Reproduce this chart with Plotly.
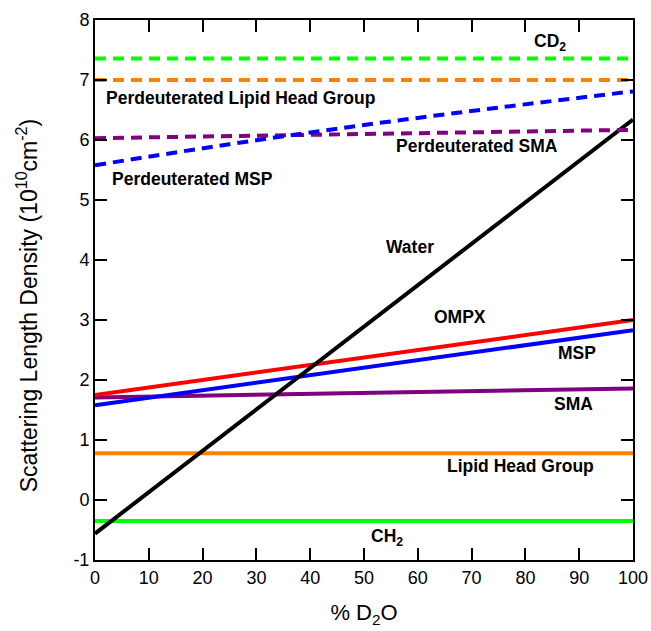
import plotly.graph_objects as go

d2o = [0, 25, 50, 75, 100]

# Solid series (linear -> endpoints)
x_end = [0, 100]
water = [-0.56, 6.34]
ompx = [1.75, 3.0]
msp = [1.58, 2.83]
sma = [1.71, 1.86]
lipid_head = [0.78, 0.78]
ch2 = [-0.35, -0.35]

# Dashed (perdeuterated) series
cd2 = [7.36, 7.36]
perd_lipid_head = [7.0, 7.0]
perd_sma = [6.03, 6.17]
perd_msp = [5.58, 5.93, 6.25, 6.54, 6.81]

y_ticks = [-1, 0, 1, 2, 3, 4, 5, 6, 7, 8]
y_tick_text = ["-1", "0", "1", "2", "3", "4", "5", "6", "7", "8"]

labels = [
    ("CD<sub>2</sub>", 84.6, 7.62),
    ("Perdeuterated Lipid Head Group", 27.0, 6.7),
    ("Perdeuterated SMA", 71.0, 5.9),
    ("Perdeuterated MSP", 18.2, 5.35),
    ("Water", 58.5, 4.22),
    ("OMPX", 67.8, 3.05),
    ("MSP", 89.5, 2.45),
    ("SMA", 89.0, 1.6),
    ("Lipid Head Group", 79.1, 0.57),
    ("CH<sub>2</sub>", 54.3, -0.62),
]

GREEN = "#00FF00"
ORANGE = "#FF8000"
PURPLE = "#800080"
BLUE = "#0000FF"
RED = "#FF0000"
FONT = "Liberation Sans, Arial"

fig = go.Figure()

def add(x, y, color, dash=None, shape="linear"):
    fig.add_trace(go.Scatter(
        x=x, y=y, mode="lines", showlegend=False,
        line=dict(color=color, width=4, dash=dash or "solid", shape=shape),
        hoverinfo="skip"))

DASH = "11px,7px"
add(x_end, ch2, GREEN)
add(x_end, lipid_head, ORANGE)
add(x_end, sma, PURPLE)
add(x_end, msp, BLUE)
add(x_end, ompx, RED)
add(x_end, water, "black")
add(x_end, cd2, GREEN, DASH)
add(x_end, perd_lipid_head, ORANGE, DASH)
add(x_end, perd_sma, PURPLE, DASH)
add(d2o, perd_msp, BLUE, DASH, "spline")

for text, x, y in labels:
    fig.add_annotation(x=x, y=y, text=text, showarrow=False,
                       font=dict(family=FONT, size=17.5, color="black", weight="bold"),
                       xanchor="center", yanchor="middle")

# y-axis title (slightly below plot centre, as in the reference)
fig.add_annotation(xref="paper", yref="paper", x=-0.126, y=0.472,
                   text="Scattering Length Density (10<sup>10</sup>cm<sup>-2</sup>)",
                   textangle=-90, showarrow=False, xanchor="center", yanchor="middle",
                   font=dict(family=FONT, size=23, color="black"))

axis_common = dict(
    showgrid=False, zeroline=False, showline=True, linecolor="black", linewidth=2,
    mirror="ticks", ticks="inside", ticklen=12, tickwidth=1.5, tickcolor="black",
    tickfont=dict(family=FONT, size=18, color="black"),
)

fig.update_xaxes(range=[0, 100], dtick=10, tick0=0,
                 title=dict(text="% D<sub>2</sub>O", standoff=18,
                            font=dict(family=FONT, size=22, color="black")),
                 **axis_common)
fig.update_yaxes(range=[-1, 8], tickvals=y_ticks, ticktext=y_tick_text,
                 **axis_common)

fig.update_layout(
    width=651, height=631,
    margin=dict(l=95, r=18, t=20, b=71, autoexpand=False),
    plot_bgcolor="white", paper_bgcolor="white",
)

fig.write_html("out.html",
               config={"displayModeBar": False},
               post_script="document.body.style.margin='0px';document.body.style.overflow='hidden';")
